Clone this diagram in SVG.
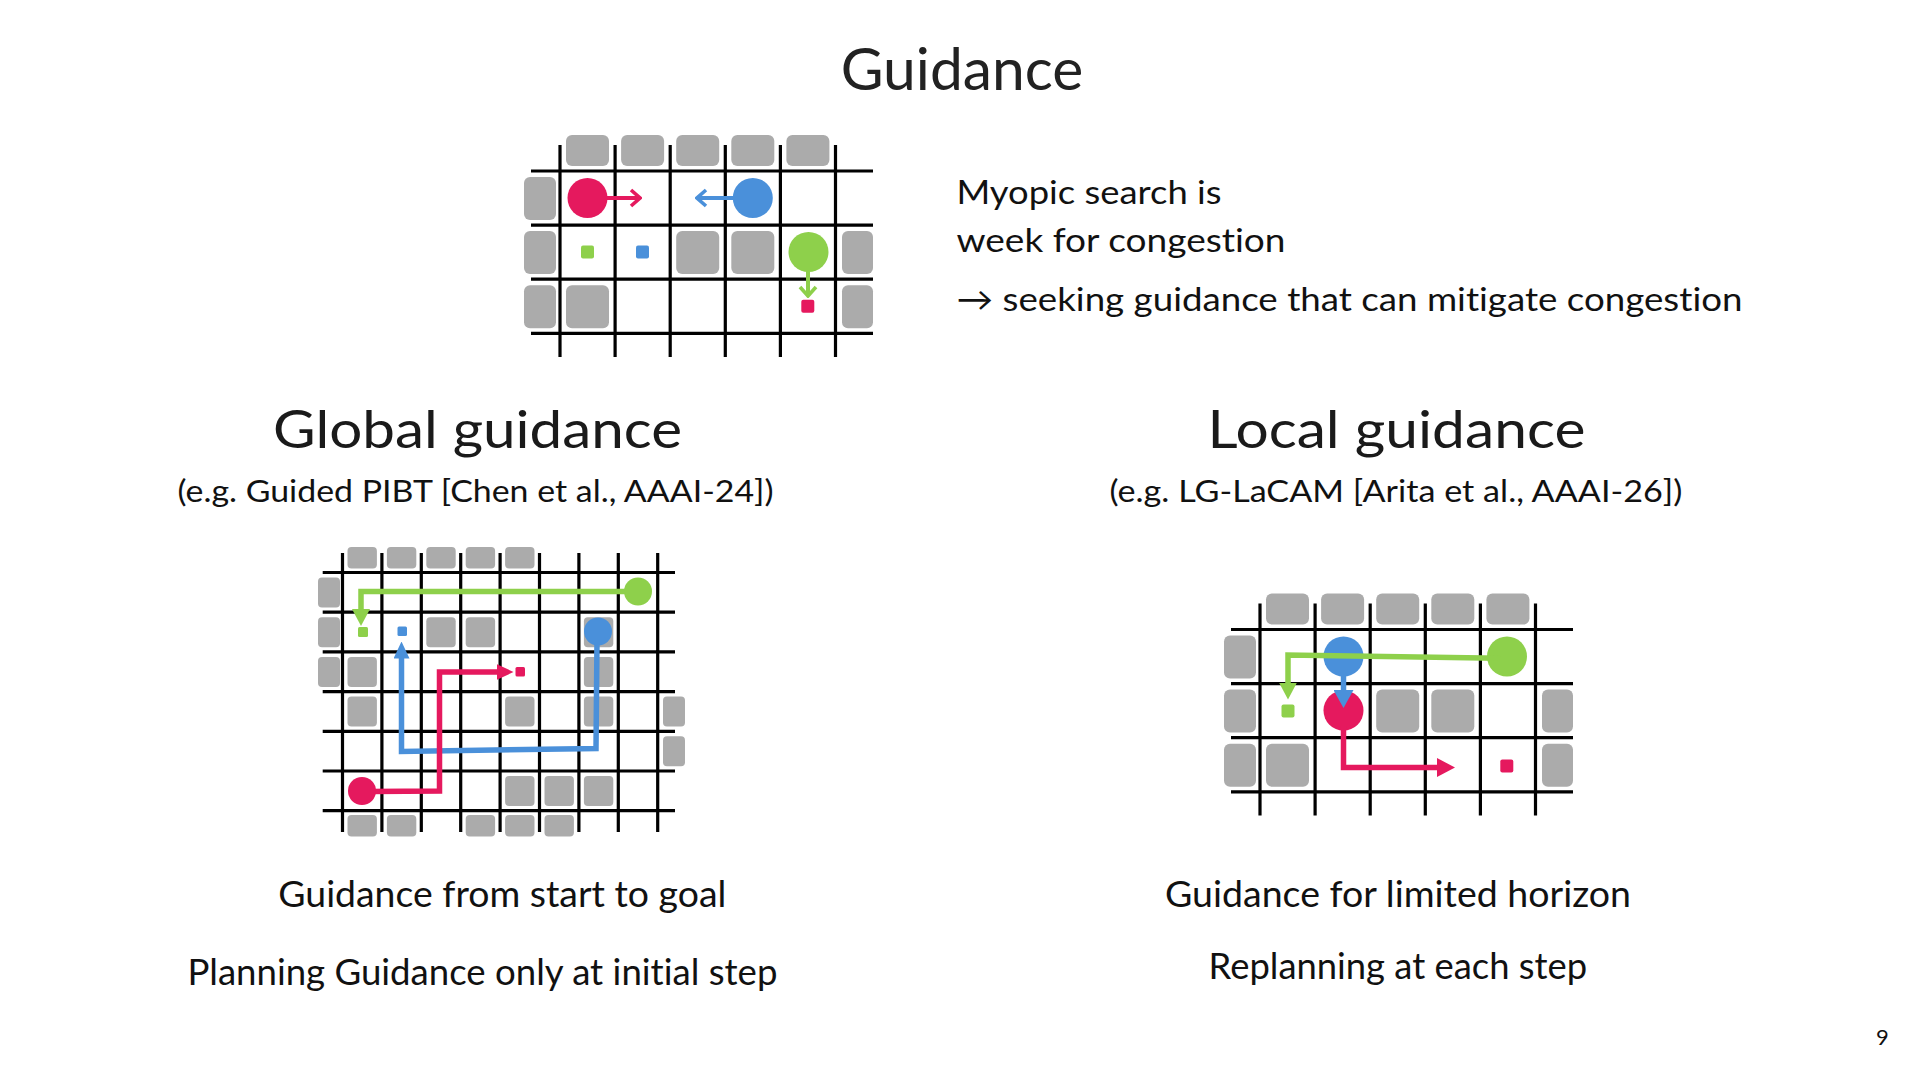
<svg xmlns="http://www.w3.org/2000/svg" xmlns:xlink="http://www.w3.org/1999/xlink" width="1920" height="1080" viewBox="0 0 1920 1080">
<style>
  .bg{fill:#ffffff}
  .grid{fill:none;stroke:#000;stroke-width:3.2}
  .blk{fill:#ababab}
  .txt{font-family:Lato,"Liberation Sans","DejaVu Sans",sans-serif;fill:#111;font-variant-ligatures:none;font-feature-settings:"liga" 0,"dlig" 0}
  .title{font-size:58px;fill:#222}
  .body{font-size:33px}
  .head{font-size:53px;fill:#1a1a1a}
  .sub{font-size:31px}
  .cap{font-size:37px}
  .red{fill:#e5195e}
  .blue{fill:#4a90da}
  .green{fill:#8ed04b}
  .pr{fill:none;stroke:#e5195e}
  .pb{fill:none;stroke:#4a90da}
  .pg{fill:none;stroke:#8ed04b}
  .thin{stroke-width:4}
  .thick{stroke-width:5.5}
</style>
<defs>
  <marker id="chevR" markerUnits="userSpaceOnUse" viewBox="-12 -10 14 20" refX="0" refY="0" markerWidth="14" markerHeight="20" orient="auto"><path d="M-9,-8 L0,0 L-9,8" fill="none" stroke="#e5195e" stroke-width="3.6"/></marker>
  <marker id="chevB" markerUnits="userSpaceOnUse" viewBox="-12 -10 14 20" refX="0" refY="0" markerWidth="14" markerHeight="20" orient="auto"><path d="M-9,-8 L0,0 L-9,8" fill="none" stroke="#4a90da" stroke-width="3.6"/></marker>
  <marker id="chevG" markerUnits="userSpaceOnUse" viewBox="-12 -10 14 20" refX="0" refY="0" markerWidth="14" markerHeight="20" orient="auto"><path d="M-9,-8 L0,0 L-9,8" fill="none" stroke="#8ed04b" stroke-width="3.6"/></marker>
  <marker id="triRs" markerUnits="userSpaceOnUse" viewBox="0 0 17 16" refX="0.5" refY="8" markerWidth="17" markerHeight="16" orient="auto"><path d="M0,0 L17,8 L0,16 z" fill="#e5195e"/></marker>
  <marker id="triBs" markerUnits="userSpaceOnUse" viewBox="0 0 17 16" refX="0.5" refY="8" markerWidth="17" markerHeight="16" orient="auto"><path d="M0,0 L17,8 L0,16 z" fill="#4a90da"/></marker>
  <marker id="triGs" markerUnits="userSpaceOnUse" viewBox="0 0 17 18" refX="0.5" refY="9" markerWidth="17" markerHeight="18" orient="auto"><path d="M0,0 L17,9 L0,18 z" fill="#8ed04b"/></marker>
  <marker id="triRl" markerUnits="userSpaceOnUse" viewBox="0 0 18 19" refX="0.5" refY="9.5" markerWidth="18" markerHeight="19" orient="auto"><path d="M0,0 L18,9.5 L0,19 z" fill="#e5195e"/></marker>
  <marker id="triBl" markerUnits="userSpaceOnUse" viewBox="0 0 18 20" refX="0.5" refY="10" markerWidth="18" markerHeight="20" orient="auto"><path d="M0,0 L18,10 L0,20 z" fill="#4a90da"/></marker>
  <marker id="triGl" markerUnits="userSpaceOnUse" viewBox="0 0 17 18" refX="0.5" refY="9" markerWidth="17" markerHeight="18" orient="auto"><path d="M0,0 L17,9 L0,18 z" fill="#8ed04b"/></marker>
  <g id="smallMap">
    <g class="blk">
      <rect x="566" y="135" width="43" height="31" rx="6"/>
      <rect x="621.1" y="135" width="43" height="31" rx="6"/>
      <rect x="676.2" y="135" width="43" height="31" rx="6"/>
      <rect x="731.3" y="135" width="43" height="31" rx="6"/>
      <rect x="786.4" y="135" width="43" height="31" rx="6"/>
      <rect x="524" y="177" width="32" height="43" rx="6"/>
      <rect x="524" y="231.1" width="32" height="43" rx="6"/>
      <rect x="524" y="285.2" width="32" height="43" rx="6"/>
      <rect x="842" y="231.1" width="31" height="43" rx="6"/>
      <rect x="842" y="285.2" width="31" height="43" rx="6"/>
      <rect x="676.2" y="231.1" width="43" height="43" rx="6"/>
      <rect x="731.3" y="231.1" width="43" height="43" rx="6"/>
      <rect x="566" y="285.2" width="43" height="43" rx="6"/>
    </g>
    <path class="grid" d="M560 145V357M615.1 145V357M670.2 145V357M725.3 145V357M780.4 145V357M835.5 145V357M531 171H873M531 225.1H873M531 279.2H873M531 333.3H873"/>
  </g>
</defs>
<rect class="bg" x="0" y="0" width="1920" height="1080"/>

<text id="title" class="txt title" x="840.7" y="89.5" textLength="242.6" lengthAdjust="spacingAndGlyphs">Guidance</text>

<g id="panel-myopic">
  <use href="#smallMap"/>
  <g id="myopic-goals">
    <rect class="green" x="581" y="245.6" width="13" height="13" rx="2"/>
    <rect class="blue" x="636" y="245.6" width="13" height="13" rx="2"/>
    <rect class="red" x="801.3" y="299.7" width="13" height="13" rx="2"/>
  </g>
  <g id="myopic-connectors">
    <path class="pr thin" d="M606 198H640" marker-end="url(#chevR)"/>
    <path class="pb thin" d="M734 198H697" marker-end="url(#chevB)"/>
    <path class="pg thin" d="M808 270V296" marker-end="url(#chevG)"/>
  </g>
  <g id="myopic-agents">
    <circle class="red" cx="587.5" cy="198" r="20"/>
    <circle class="blue" cx="752.8" cy="198" r="20"/>
    <circle class="green" cx="808.5" cy="252" r="20"/>
  </g>
</g>

<g id="myopic-text" class="txt body">
  <text x="956.5" y="203.5" textLength="265" lengthAdjust="spacingAndGlyphs">Myopic search is</text>
  <text x="956.5" y="251.5" textLength="329" lengthAdjust="spacingAndGlyphs">week for congestion</text>
  <text x="956.5" y="310.5" textLength="786" lengthAdjust="spacingAndGlyphs">→ seeking guidance that can mitigate congestion</text>
</g>

<g id="global-heading" class="txt">
  <text class="head" x="273" y="448" textLength="409" lengthAdjust="spacingAndGlyphs">Global guidance</text>
  <text class="sub" x="177.5" y="502" textLength="596" lengthAdjust="spacingAndGlyphs">(e.g. Guided PIBT [Chen et al., AAAI-24])</text>
</g>

<g id="local-heading" class="txt">
  <text class="head" x="1207.4" y="448" textLength="378" lengthAdjust="spacingAndGlyphs">Local guidance</text>
  <text class="sub" x="1109.4" y="502" textLength="573" lengthAdjust="spacingAndGlyphs">(e.g. LG-LaCAM [Arita et al., AAAI-26])</text>
</g>

<g id="panel-global">
  <g class="blk">
    <rect x="347.5" y="547" width="29.4" height="21.5" rx="4"/>
    <rect x="386.9" y="547" width="29.4" height="21.5" rx="4"/>
    <rect x="426.3" y="547" width="29.4" height="21.5" rx="4"/>
    <rect x="465.7" y="547" width="29.4" height="21.5" rx="4"/>
    <rect x="505.1" y="547" width="29.4" height="21.5" rx="4"/>
    <rect x="318" y="577.5" width="22" height="30" rx="4"/>
    <rect x="318" y="617.2" width="22" height="30" rx="4"/>
    <rect x="318" y="656.9" width="22" height="30" rx="4"/>
    <rect x="426.3" y="617.2" width="29.4" height="30" rx="4"/>
    <rect x="465.7" y="617.2" width="29.4" height="30" rx="4"/>
    <rect x="583.9" y="617.2" width="29.4" height="30" rx="4"/>
    <rect x="347.5" y="656.9" width="29.4" height="30" rx="4"/>
    <rect x="583.9" y="656.9" width="29.4" height="30" rx="4"/>
    <rect x="347.5" y="696.6" width="29.4" height="30" rx="4"/>
    <rect x="505.1" y="696.6" width="29.4" height="30" rx="4"/>
    <rect x="583.9" y="696.6" width="29.4" height="30" rx="4"/>
    <rect x="663" y="696.6" width="22" height="30" rx="4"/>
    <rect x="663" y="736.3" width="22" height="30" rx="4"/>
    <rect x="505.1" y="776" width="29.4" height="30" rx="4"/>
    <rect x="544.5" y="776" width="29.4" height="30" rx="4"/>
    <rect x="583.9" y="776" width="29.4" height="30" rx="4"/>
    <rect x="347.5" y="815" width="29.4" height="21.5" rx="4"/>
    <rect x="386.9" y="815" width="29.4" height="21.5" rx="4"/>
    <rect x="465.7" y="815" width="29.4" height="21.5" rx="4"/>
    <rect x="505.1" y="815" width="29.4" height="21.5" rx="4"/>
    <rect x="544.5" y="815" width="29.4" height="21.5" rx="4"/>
  </g>
  <path class="grid" d="M342.5 553V832M381.9 553V832M421.3 553V832M460.7 553V832M500.1 553V832M539.5 553V832M578.9 553V832M618.3 553V832M657.7 553V832M322.7 572.5H675M322.7 612.2H675M322.7 651.9H675M322.7 691.6H675M322.7 731.3H675M322.7 771H675M322.7 810.7H675"/>
  <g id="global-goals">
    <rect class="green" x="358" y="627" width="10" height="10" rx="1.5"/>
    <rect class="blue" x="397.5" y="626.5" width="9.5" height="9.5" rx="1.5"/>
    <rect class="red" x="515.5" y="667" width="9.5" height="9.5" rx="1.5"/>
  </g>
  <g id="global-connectors">
    <path class="pg thick" d="M628 591.5H361V609.5" marker-end="url(#triGs)"/>
    <path class="pb thick" d="M597 640L596 748.5L401.5 751.5V658" marker-end="url(#triBs)"/>
    <path class="pr thick" d="M370 791.5L439.5 791V672H497" marker-end="url(#triRs)"/>
  </g>
  <g id="global-agents">
    <circle class="green" cx="638" cy="591.5" r="14"/>
    <circle class="blue" cx="598" cy="631.5" r="14"/>
    <circle class="red" cx="362" cy="791" r="14"/>
  </g>
</g>

<g id="panel-local">
  <use href="#smallMap" transform="translate(700,458.5)"/>
  <g id="local-goals">
    <rect class="green" x="1281.5" y="704.5" width="13" height="13" rx="2"/>
    <rect class="red" x="1500.3" y="759.5" width="13" height="13" rx="2"/>
  </g>
  <g id="local-agents-under">
    <circle class="blue" cx="1343.5" cy="656.5" r="20"/>
    <circle class="red" cx="1343.5" cy="710.5" r="20"/>
    <circle class="green" cx="1507" cy="656.5" r="20"/>
  </g>
  <g id="local-connectors">
    <path class="pg thick" d="M1500 658.2L1288 655V683" marker-end="url(#triGl)"/>
    <path class="pb thick" d="M1343.5 672V690.5" marker-end="url(#triBl)"/>
    <path class="pr thick" d="M1343.5 726V767.5H1437.5" marker-end="url(#triRl)"/>
  </g>
</g>

<g id="captions" class="txt cap">
  <text x="278.3" y="906.5" textLength="448" lengthAdjust="spacingAndGlyphs">Guidance from start to goal</text>
  <text x="187.4" y="984.5" textLength="590" lengthAdjust="spacingAndGlyphs">Planning Guidance only at initial step</text>
  <text x="1165" y="906.5" textLength="466" lengthAdjust="spacingAndGlyphs">Guidance for limited horizon</text>
  <text x="1208.6" y="979" textLength="378.5" lengthAdjust="spacingAndGlyphs">Replanning at each step</text>
</g>

<text id="page-number" class="txt" x="1876" y="1045" font-size="22" fill="#333">9</text>
</svg>
